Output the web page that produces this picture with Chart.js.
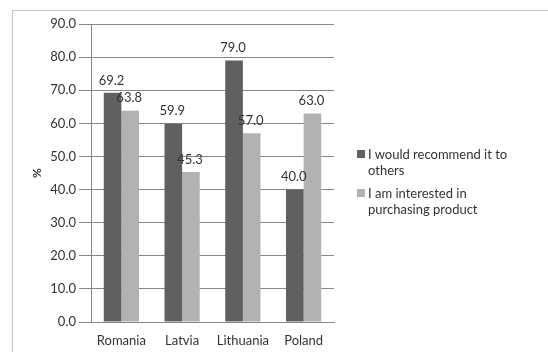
<!DOCTYPE html>
<html>
<head>
<meta charset="utf-8">
<script src="https://cdn.jsdelivr.net/npm/chart.js@4.4.1/dist/chart.umd.min.js"></script>
<style>
  html, body { margin: 0; padding: 0; background: #fff; }
  #wrap { position: relative; width: 548px; height: 352px; overflow: hidden; }
  #frame { position: absolute; left: 12px; top: 10px; width: 600px; height: 400px; border: 1px solid #c4c4c4; }
  #chart { position: absolute; left: 0; top: 0; }
  #legend { position: absolute; left: 357px; top: 146px; width: 170px; font: 13px Lato, sans-serif; color: #333; }
  .item { position: relative; padding-left: 11px; line-height: 16px; margin-bottom: 7px; }
  .box { position: absolute; left: 0; top: 4px; width: 8px; height: 8px; }
</style>
</head>
<body>
<div id="wrap">
  <div id="frame"></div>
  <canvas id="chart" width="548" height="352"></canvas>
  <div id="legend"></div>
</div>
<script>
const countries = ['Romania', 'Latvia', 'Lithuania', 'Poland'];
const recommend = [69.2, 59.9, 79.0, 40.0];
const interested = [63.8, 45.3, 57.0, 63.0];
const seriesNames = ['I would recommend it to others', 'I am interested in purchasing product'];
const colors = ['#606060', '#b2b2b2'];

// value labels above each bar
const barLabels = {
    id: 'barLabels',
    afterDatasetsDraw(chart) {
        const ctx = chart.ctx;
        ctx.save();
        ctx.font = '13px Lato, sans-serif';
        ctx.fillStyle = '#333';
        ctx.textAlign = 'center';
        ctx.textBaseline = 'bottom';
        chart.data.datasets.forEach((ds, i) => {
            chart.getDatasetMeta(i).data.forEach((bar, j) => {
                ctx.fillText(ds.data[j].toFixed(1), bar.x - 1, bar.y - 6);
            });
        });
        ctx.restore();
    }
};

const ctx = document.getElementById('chart').getContext('2d');
const chart = new Chart(ctx, {
    type: 'bar',
    data: {
        labels: countries,
        datasets: [
            { label: seriesNames[0], data: recommend, backgroundColor: colors[0] },
            { label: seriesNames[1], data: interested, backgroundColor: colors[1] }
        ]
    },
    options: {
        responsive: false,
        animation: false,
        datasets: { bar: { categoryPercentage: 0.58, barPercentage: 1 } },
        layout: { padding: { left: 28, right: 214, top: 24, bottom: 0 } },
        plugins: { legend: { display: false }, tooltip: { enabled: false } },
        scales: {
            x: {
                grid: { display: false },
                border: { display: true, color: '#868686' },
                ticks: { color: '#333', font: { family: 'Lato', size: 13 }, padding: 3 },
                afterFit(scale) { scale.height = 30; }
            },
            y: {
                min: 0, max: 90,
                ticks: {
                    stepSize: 10, color: '#333', padding: 3,
                    font: { family: 'Lato', size: 13 },
                    callback: v => v.toFixed(1)
                },
                grid: { color: '#868686', tickLength: 12 },
                border: { display: true, color: '#868686' },
                title: { display: true, text: '%', color: '#333', font: { family: 'Lato', size: 12, weight: 'bold' }, padding: 2 },
                afterFit(scale) { scale.width = 63; }
            }
        }
    },
    plugins: [barLabels]
});

// legend on the right, text wraps like the original
const legend = document.getElementById('legend');
seriesNames.forEach((name, i) => {
    const item = document.createElement('div');
    item.className = 'item';
    item.innerHTML = '<span class="box" style="background:' + colors[i] + '"></span>' + name;
    legend.appendChild(item);
});
</script>
</body>
</html>
